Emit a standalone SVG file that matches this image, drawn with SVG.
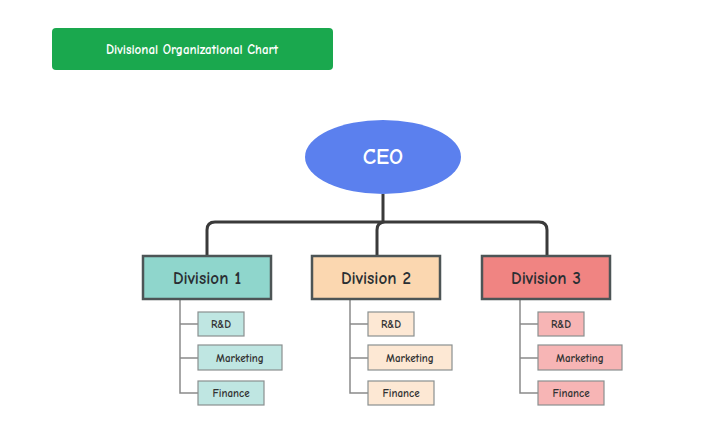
<svg xmlns="http://www.w3.org/2000/svg" width="720" height="442" viewBox="0 0 720 442">
<style>
text{font-family:"Comic Neue","Liberation Sans",sans-serif;font-weight:bold;text-anchor:middle;dominant-baseline:central}
.div{stroke:#4d5556;stroke-width:2.5}
.sub{stroke:#8a9090;stroke-width:1.2}
.c{fill:none;stroke:#3a3a3a;stroke-width:3}
.b{fill:none;stroke:#8a8a8a;stroke-width:1.5}
.dt{font-size:17px;fill:#2a2f33}
.st{font-size:11px;fill:#333}
</style>
<rect width="720" height="442" fill="#fff"/>
<g id="title"><rect x="52" y="28" width="281" height="42" rx="4" fill="#1aa84e"/><text x="192" y="49" font-size="13" fill="#fff">Divisional Organizational Chart</text></g>
<g id="connectors">
<path class="c" d="M383 194V222M207 256V230Q207 222 215 222H539Q547 222 547 230V256M377 256V230Q377 222 385 222"/>
<path class="b" d="M180 299V393Q180 393 198 393M180 324H198M180 358H198"/>
<path class="b" d="M350 299V393H368M350 324H368M350 358H368"/>
<path class="b" d="M520 299V393H538M520 324H538M520 358H538"/>
</g>
<g id="ceo"><ellipse cx="383" cy="157" rx="78" ry="37" fill="#5b80ee"/><text x="383" y="157" font-size="22" font-weight="normal" fill="#fff">CEO</text></g>
<g id="div1"><rect class="div" x="143" y="256" width="128" height="43" fill="#8fd6cc"/><text class="dt" x="207" y="278">Division 1</text></g>
<g id="div2"><rect class="div" x="312" y="256" width="128" height="43" fill="#fbd7b0"/><text class="dt" x="376" y="278">Division 2</text></g>
<g id="div3"><rect class="div" x="482" y="256" width="128" height="43" fill="#f08482"/><text class="dt" x="546" y="278">Division 3</text></g>
<g id="d1-rd"><rect class="sub" x="198" y="312" width="46" height="24" fill="#bfe6e2"/><text class="st" x="221" y="324">R&amp;D</text></g>
<g id="d1-mk"><rect class="sub" x="198" y="345" width="84" height="25" fill="#bfe6e2"/><text class="st" x="240" y="358">Marketing</text></g>
<g id="d1-fi"><rect class="sub" x="198" y="381" width="66" height="24" fill="#bfe6e2"/><text class="st" x="231" y="393">Finance</text></g>
<g id="d2-rd"><rect class="sub" x="368" y="312" width="46" height="24" fill="#fde8d4"/><text class="st" x="391" y="324">R&amp;D</text></g>
<g id="d2-mk"><rect class="sub" x="368" y="345" width="84" height="25" fill="#fde8d4"/><text class="st" x="410" y="358">Marketing</text></g>
<g id="d2-fi"><rect class="sub" x="368" y="381" width="66" height="24" fill="#fde8d4"/><text class="st" x="401" y="393">Finance</text></g>
<g id="d3-rd"><rect class="sub" x="538" y="312" width="46" height="24" fill="#f7b5b5"/><text class="st" x="561" y="324">R&amp;D</text></g>
<g id="d3-mk"><rect class="sub" x="538" y="345" width="84" height="25" fill="#f7b5b5"/><text class="st" x="580" y="358">Marketing</text></g>
<g id="d3-fi"><rect class="sub" x="538" y="381" width="66" height="24" fill="#f7b5b5"/><text class="st" x="571" y="393">Finance</text></g>
</svg>
